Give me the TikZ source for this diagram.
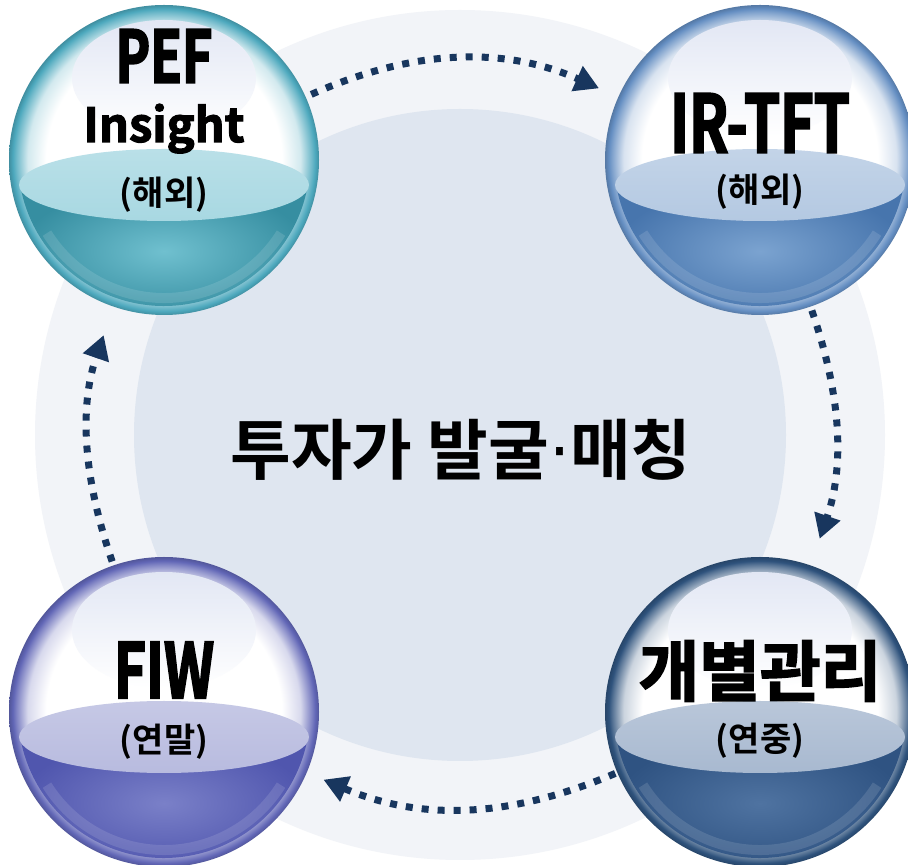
\documentclass[tikz,border=0pt]{standalone}
\usepackage{fontspec}
\usepackage{tikz}
\usetikzlibrary{arrows.meta}
\usetikzlibrary{positioning}
\newfontfamily\kofont{Noto Sans CJK KR Bold}
\newfontfamily\dotfont{DejaVu Sans}
\newfontfamily\heavyfont{Noto Sans CJK KR Bold}[FakeBold=2.4]
\newfontfamily\narrowfont{Noto Sans CJK KR Bold}[FakeBold=2.4,FakeStretch=0.72]

\definecolor{arrowblue}{RGB}{24,54,94}
\definecolor{ringout}{RGB}{242,244,248}
\definecolor{ringin}{RGB}{223,230,240}
\definecolor{glint}{RGB}{226,231,244}
\definecolor{pefrim}{RGB}{76,168,189}
\definecolor{pefsurf}{RGB}{168,216,226}
\definecolor{pefdark}{RGB}{54,142,161}
\definecolor{peflight}{RGB}{112,192,207}
\definecolor{irrim}{RGB}{100,142,194}
\definecolor{irsurf}{RGB}{180,201,226}
\definecolor{irdark}{RGB}{71,117,173}
\definecolor{irlight}{RGB}{123,163,208}
\definecolor{carerim}{RGB}{46,82,124}
\definecolor{caresurf}{RGB}{168,185,208}
\definecolor{caredark}{RGB}{47,83,130}
\definecolor{carelight}{RGB}{79,115,161}
\definecolor{fiwrim}{RGB}{97,102,182}
\definecolor{fiwsurf}{RGB}{184,187,223}
\definecolor{fiwdark}{RGB}{80,86,174}
\definecolor{fiwlight}{RGB}{122,128,200}
\colorlet{rimcol}{black}

\pgfdeclareradialshading[rimcol]{glassball}{\pgfpoint{0bp}{0bp}}{%
  color(0bp)=(white); color(19bp)=(white); color(22bp)=(rimcol!25!white);
  color(23.8bp)=(rimcol!80!white); color(24.4bp)=(rimcol); color(25bp)=(rimcol!85!black);
  color(50bp)=(rimcol!85!black)}

\tikzset{
  globe/.style n args={4}{circle, inner sep=0pt, minimum size=310pt,
    /utils/exec={\colorlet{rimcol}{#1}\colorlet{surfcol}{#2}\colorlet{liqdark}{#3}\colorlet{liqlight}{#4}},
    path picture={
      \coordinate (g) at (path picture bounding box.center);
      \shade[shading=glassball] (g) circle (155pt);
      \shade[top color=glint, middle color=white, bottom color=white] ([yshift=82pt]g) ellipse (92pt and 58pt);
      \shade[inner color=liqlight, outer color=liqdark] ([shift={(189.8:146pt)}]g)
        arc[start angle=189.8, end angle=350.2, radius=146pt] -- cycle;
      \draw[white, opacity=.12, line width=10pt] ([shift={(212:138pt)}]g)
        arc[start angle=212, end angle=328, radius=138pt];
      \shade[top color=surfcol!80!white, bottom color=surfcol] ([yshift=-25pt]g) ellipse (145pt and 36pt);
    }},
  heading/.style={font=\narrowfont\fontsize{74}{74}\selectfont, inner sep=0pt},
  subhead/.style={font=\kofont\fontsize{34}{34}\selectfont, inner sep=0pt},
  flow/.style={draw=arrowblue, line width=7pt, dash pattern=on 7pt off 9pt,
    -{Triangle[length=24pt,width=26pt]}}
}

\begin{document}
\begin{tikzpicture}[x=1pt, y=1pt]
  \useasboundingbox (0,0) rectangle (908,865);
  \fill[white] (0,0) rectangle (908,865);
  \fill[ringout] (460,430) circle (425);
  \fill[ringin] (460,430) circle (326);
  \node[font=\kofont\fontsize{66}{66}\selectfont] (hub) at (461,415) {투자가 발굴{\dotfont ·}매칭};

  \node[globe={pefrim}{pefsurf}{pefdark}{peflight}] (pef) at (164,705) {};
  \node[globe={irrim}{irsurf}{irdark}{irlight}] (irtft) at (760,705) {};
  \node[globe={carerim}{caresurf}{caredark}{carelight}] (care) at (760,153) {};
  \node[globe={fiwrim}{fiwsurf}{fiwdark}{fiwlight}] (fiw) at (164,153) {};

  \node[heading, font=\narrowfont\fontsize{72}{72}\selectfont] (pef-title) at ([yshift=104pt]pef.center) {PEF};
  \node[heading, font=\heavyfont\fontsize{47}{47}\selectfont, anchor=base] (pef-word) at ([yshift=18pt]pef.center) {Insight};
  \node[subhead] (pef-when) at ([yshift=-35pt]pef.center) {(해외)};

  \node[heading, font=\narrowfont\fontsize{80}{80}\selectfont] (irtft-title) at ([yshift=37pt]irtft.center) {IR-TFT};
  \node[subhead] (irtft-when) at ([yshift=-32pt]irtft.center) {(해외)};

  \node[heading, font=\heavyfont\fontsize{66}{66}\selectfont] (care-title) at ([yshift=41pt]care.center) {개별관리};
  \node[subhead] (care-when) at ([yshift=-29pt]care.center) {(연중)};

  \node[heading, font=\narrowfont\fontsize{76}{76}\selectfont] (fiw-title) at ([yshift=42pt]fiw.center) {FIW};
  \node[subhead] (fiw-when) at ([yshift=-30pt]fiw.center) {(연말)};

  \draw[flow, shorten <=6pt, shorten >=21pt] (pef) to[bend left=24] (irtft);
  \draw[flow, shorten <=4pt, shorten >=28pt] (irtft) to[bend left=19] (care);
  \draw[flow, shorten <=2pt, shorten >=18pt] (care) to[bend left=23] (fiw);
  \draw[flow, shorten <=4pt, shorten >=30pt] (fiw) to[bend left=19] (pef);
\end{tikzpicture}
\end{document}
